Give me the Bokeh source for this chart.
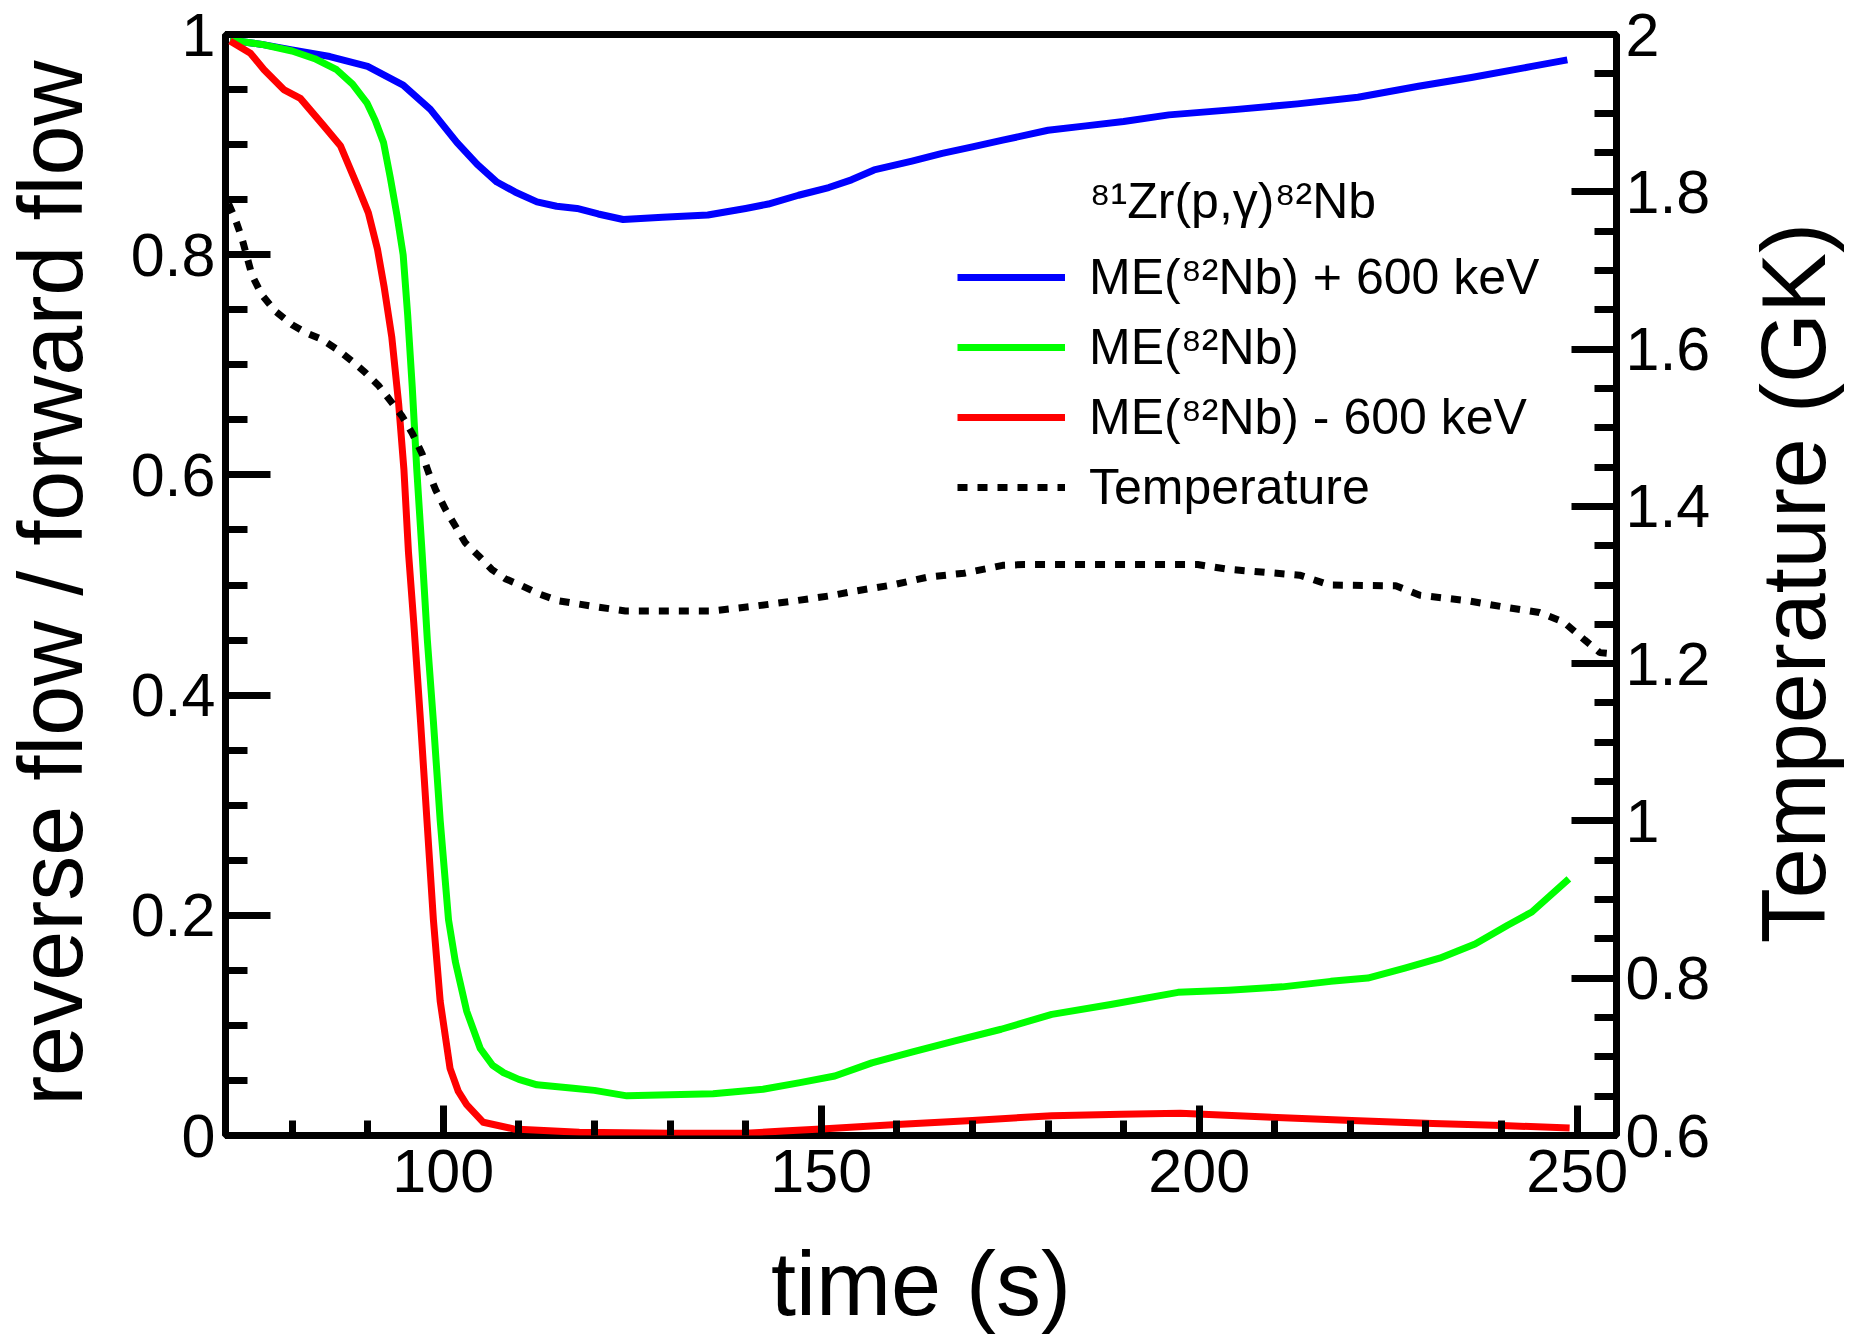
import numpy as np
from bokeh.plotting import figure
from bokeh.layouts import row, column
from bokeh.models import (Range1d, LinearAxis, FixedTicker, CustomJSTickFormatter,
                          Legend, LegendItem, Label)
from bokeh.core.properties import value
from bokeh.embed import file_html
from bokeh.resources import INLINE

FONT = "Liberation Sans"

# ---------------- data ----------------
time_blue = [71.8, 76, 80, 85, 90, 94.7, 98.3, 101.8, 104.5, 107.1, 109.5, 112.4, 115, 117.7,
             120.5, 123.8, 129, 135, 140, 143, 147, 151, 154, 157, 162, 166, 170, 174, 180,
             185, 190, 196, 205, 213, 221, 225, 229, 236, 244, 248.7]
ratio_blue = [0.995, 0.991, 0.986, 0.980, 0.971, 0.954, 0.932, 0.902, 0.882, 0.866, 0.857, 0.848,
              0.844, 0.842, 0.837, 0.832, 0.834, 0.836, 0.842, 0.846, 0.854, 0.861, 0.868, 0.877,
              0.885, 0.892, 0.898, 0.904, 0.913, 0.917, 0.921, 0.927, 0.932, 0.937, 0.943, 0.948,
              0.953, 0.961, 0.971, 0.977]

time_green = [71.8, 76, 80, 83, 85.9, 88, 89.9, 91, 92.1, 93.0, 93.9, 94.7, 95.3, 95.9, 96.5,
              97.2, 97.9, 98.7, 99.6, 100.7, 101.6, 103.1, 104.9, 106.5, 108, 110, 112.4, 117.2,
              120, 124.3, 130, 135.7, 142.3, 147.2, 151.8, 156.7, 162.1, 167.7, 173.8, 180.5,
              188.3, 197.2, 203.9, 211, 217.4, 222.3, 227.2, 231.8, 236.5, 240.8, 244, 248.9]
ratio_green = [0.995, 0.991, 0.985, 0.978, 0.968, 0.955, 0.938, 0.922, 0.902, 0.870, 0.835, 0.800,
               0.745, 0.680, 0.605, 0.530, 0.450, 0.376, 0.286, 0.196, 0.158, 0.113, 0.079, 0.064,
               0.057, 0.051, 0.046, 0.043, 0.041, 0.036, 0.037, 0.038, 0.042, 0.048, 0.054, 0.066,
               0.076, 0.086, 0.0965, 0.110, 0.119, 0.130, 0.132, 0.135, 0.140, 0.143, 0.152, 0.161,
               0.174, 0.191, 0.203, 0.233]

time_red = [71.8, 74.5, 76.3, 78.9, 81.1, 84.2, 86.4, 88.8, 90.1, 91.3, 92.2, 93.2, 94.1, 94.8,
            95.4, 96.1, 97.0, 97.85, 98.7, 99.6, 100.9, 102, 103.1, 105.3, 109.3, 118, 130, 140,
            145, 150, 160, 170, 180.5, 189.7, 197.5, 210.3, 220.2, 230.9, 240.1, 249]
ratio_red = [0.994, 0.983, 0.968, 0.950, 0.942, 0.917, 0.899, 0.860, 0.838, 0.805, 0.770, 0.725,
             0.665, 0.605, 0.530, 0.466, 0.376, 0.286, 0.196, 0.122, 0.061, 0.040, 0.028, 0.012,
             0.006, 0.003, 0.002, 0.002, 0.004, 0.006, 0.010, 0.0137, 0.018, 0.0194, 0.0203,
             0.0164, 0.0137, 0.0108, 0.009, 0.0069]

time_temp = [71.6, 72.5, 73.4, 74.7, 76, 77.8, 80, 81.8, 84, 86.2, 87.9, 89.7, 91.5, 93.2, 94.6,
             95.9, 97.2, 98.1, 99, 100.3, 101.6, 102.9, 104.7, 106.4, 108.2, 110.4, 112.6, 115.2,
             119.7, 124.1, 130, 135.6, 141.1, 145.9, 151, 154.6, 159.4, 164.1, 168.9, 174, 176.8,
             190, 199.8, 203.8, 213.3, 217.3, 226, 229.2, 235.5, 240.3, 245, 248.2, 251, 253, 255.2]
temperature = [1.785, 1.765, 1.740, 1.694, 1.669, 1.648, 1.631, 1.621, 1.612, 1.598, 1.585, 1.570,
               1.553, 1.532, 1.514, 1.493, 1.467, 1.442, 1.421, 1.396, 1.375, 1.354, 1.337, 1.320,
               1.308, 1.299, 1.289, 1.280, 1.273, 1.267, 1.267, 1.267, 1.273, 1.279, 1.286, 1.2925,
               1.300, 1.310, 1.315, 1.325, 1.326, 1.326, 1.326, 1.320, 1.3125, 1.300, 1.299, 1.287,
               1.280, 1.272, 1.265, 1.253, 1.230, 1.214, 1.212]

x_major_ticks = [100, 150, 200, 250]
x_minor_ticks = list(range(80, 260, 10))
y_major_ticks = [0, 0.2, 0.4, 0.6, 0.8, 1.0]
y_minor_ticks = [round(0.05 * i, 2) for i in range(0, 21)]
t_major_ticks = [0.6, 0.8, 1.0, 1.2, 1.4, 1.6, 1.8, 2.0]
t_minor_ticks = [round(0.6 + 0.05 * i, 2) for i in range(0, 29)]

series_labels = ["ME(\u2078\u00b2Nb) + 600 keV", "ME(\u2078\u00b2Nb)", "ME(\u2078\u00b2Nb) - 600 keV", "Temperature"]
legend_title = "\u2078\u00b9Zr(p,\u03b3)\u2078\u00b2Nb"
x_title = "time (s)"
y_title = "reverse flow / forward flow"
y2_title = "Temperature (GK)"

# ---------------- layout (screen px; Bokeh page has no body margin) ----------------
X0, X1 = 71.2, 255.2
Y0, Y1 = 0.0, 1.0
T0, T1 = 0.6, 2.0

TOTAL_W, TOTAL_H = 1845, 1335
FRAME_L, FRAME_R, FRAME_T, FRAME_B = 225, 1616, 34, 1135
LW = 110                      # left title strip
BL = FRAME_L - LW             # main frame left border
FW = FRAME_R - FRAME_L
BR = 104
MW = BL + FW + BR
RW = TOTAL_W - LW - MW        # right title strip
BT = FRAME_T
FH = FRAME_B - FRAME_T
MH = 1226                     # main figure height
BB = MH - BT - FH
HB = TOTAL_H - MH             # bottom title strip

TITLE_PX = 90
MID = 0.3465                  # middle of the text box above the baseline (em)
ROT_SHIFT = 31                # along-text correction for the rotated titles

p = figure(width=MW, height=MH, x_range=Range1d(X0, X1), y_range=Range1d(Y0, Y1),
           output_backend="svg", toolbar_location=None,
           min_border_left=BL, min_border_right=BR, min_border_top=BT, min_border_bottom=BB)
p.extra_y_ranges = {"temp": Range1d(T0, T1)}
p.background_fill_color = "white"
p.border_fill_color = "white"
p.xgrid.grid_line_color = None
p.ygrid.grid_line_color = None
p.outline_line_color = "black"
p.outline_line_width = 7
p.outline_line_alpha = 1.0

fmt = CustomJSTickFormatter(code="return String(Number(tick.toFixed(2)));")


def style_axis(ax, major_in, minor_in, standoff):
    ax.axis_line_color = None
    ax.major_tick_in = major_in
    ax.major_tick_out = 0
    ax.minor_tick_in = minor_in
    ax.minor_tick_out = 0
    ax.major_tick_line_width = 7
    ax.minor_tick_line_width = 7
    ax.major_tick_line_color = "black"
    ax.minor_tick_line_color = "black"
    ax.major_label_text_font = FONT
    ax.major_label_text_font_size = "61px"
    ax.major_label_text_color = "black"
    ax.major_label_standoff = standoff


xax = p.xaxis[0]
xax.ticker = FixedTicker(ticks=x_major_ticks, minor_ticks=x_minor_ticks)
style_axis(xax, 30, 15, 14)

yax = p.yaxis[0]
yax.ticker = FixedTicker(ticks=y_major_ticks, minor_ticks=y_minor_ticks)
yax.formatter = fmt
style_axis(yax, 45, 22, 10)

rax = LinearAxis(y_range_name="temp", ticker=FixedTicker(ticks=t_major_ticks, minor_ticks=t_minor_ticks),
                 formatter=fmt)
style_axis(rax, 45, 22, 9)
p.add_layout(rax, "right")

# ---------------- lines ----------------
rb = p.line(time_blue, ratio_blue, line_color="#0000ff", line_width=7, line_join="round")
rg = p.line(time_green, ratio_green, line_color="#00ff00", line_width=7, line_join="round")
rr = p.line(time_red, ratio_red, line_color="#ff0000", line_width=7, line_join="round")
rt = p.line(time_temp, temperature, y_range_name="temp", line_color="black", line_width=7,
            line_dash="10 10", line_cap="butt")

legend = Legend(items=[LegendItem(label=series_labels[0], renderers=[rb]),
                       LegendItem(label=series_labels[1], renderers=[rg]),
                       LegendItem(label=series_labels[2], renderers=[rr]),
                       LegendItem(label=series_labels[3], renderers=[rt])],
                location=(957 - FRAME_L, FRAME_B - 522),
                orientation="vertical",
                glyph_width=108, glyph_height=70, label_height=70, label_standoff=24,
                spacing=0, padding=0, margin=0,
                border_line_color=None, background_fill_alpha=0.0,
                label_text_font=FONT, label_text_font_size="50px", label_text_color="black")
p.add_layout(legend)

# legend title inside the frame (baseline at y=218)
p.add_layout(Label(x=X0 + (1089 - FRAME_L) * (X1 - X0) / FW,
                   y=Y1 - (218 - MID * 50 - FRAME_T) * (Y1 - Y0) / FH,
                   text=legend_title, text_font=FONT,
                   text_font_size="50px", text_color="black", text_align="left",
                   text_baseline="middle"))


# ---------------- title strips ----------------
def strip(w, h):
    f = figure(width=w, height=h, x_range=Range1d(0, w), y_range=Range1d(0, h),
               output_backend="svg", toolbar_location=None, min_border=0,
               x_axis_location=None, y_axis_location=None)
    f.xgrid.grid_line_color = None
    f.ygrid.grid_line_color = None
    f.outline_line_color = None
    f.background_fill_color = "white"
    f.border_fill_color = "white"
    return f


mid_y = MH - 580 - ROT_SHIFT
left = strip(LW, MH)
left.text(x=[82 - MID * TITLE_PX], y=[mid_y], text=[y_title], angle=np.pi / 2,
          text_font=value(FONT), text_font_size=value("%dpx" % TITLE_PX), text_color="black",
          text_align="center", text_baseline="middle")

right_x0 = LW + MW
right = strip(RW, MH)
right.text(x=[1825 - MID * TITLE_PX - right_x0], y=[mid_y], text=[y2_title], angle=np.pi / 2,
           text_font=value(FONT), text_font_size=value("%dpx" % TITLE_PX), text_color="black",
           text_align="center", text_baseline="middle")

bottom = strip(TOTAL_W, HB)
bottom.text(x=[(FRAME_L + FRAME_R) / 2], y=[HB - (1315 - MID * TITLE_PX - MH)], text=[x_title],
            text_font=value(FONT), text_font_size=value("%dpx" % TITLE_PX), text_color="black",
            text_align="center", text_baseline="middle")

layout = column(row(left, p, right, spacing=0), bottom, spacing=0)

open("out.html", "w").write(file_html(layout, INLINE))
